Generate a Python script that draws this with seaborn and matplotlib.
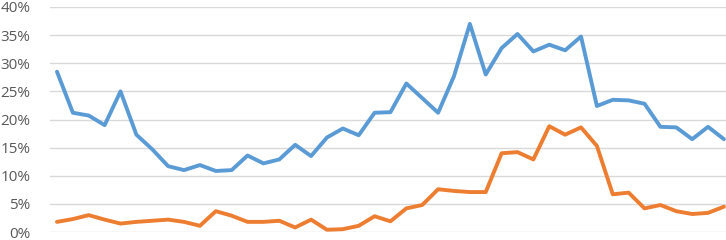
"""
Two percentage series over 43 periods, Excel-style line chart.
"""

## Import packages
import pandas as pd
import matplotlib.pyplot as plt
import matplotlib.ticker as mtick
import seaborn as sns


## Prepare data
# Values (percent)
blue = [28.5, 21.2, 20.7, 19.0, 25.0, 17.3, 14.7, 11.7, 11.0, 11.9,
        10.85, 11.0, 13.6, 12.2, 12.9, 15.5, 13.5, 16.8, 18.4, 17.2,
        21.2, 21.3, 26.4, 23.8, 21.2, 27.7, 37.0, 28.0, 32.7, 35.2,
        32.1, 33.3, 32.3, 34.75, 22.4, 23.5, 23.4, 22.8, 18.7, 18.6,
        16.5, 18.7, 16.5]
orange = [1.8, 2.3, 3.0, 2.2, 1.5, 1.8, 2.0, 2.2, 1.8, 1.1,
          3.7, 2.9, 1.8, 1.8, 2.0, 0.8, 2.2, 0.4, 0.5, 1.1,
          2.8, 1.9, 4.2, 4.8, 7.6, 7.3, 7.1, 7.1, 14.0, 14.2,
          12.9, 18.8, 17.3, 18.6, 15.3, 6.7, 7.0, 4.2, 4.8, 3.7,
          3.2, 3.4, 4.5]
period = list(range(len(blue)))

df = pd.DataFrame({
    'period': period * 2,
    'value': [v / 100 for v in blue] + [v / 100 for v in orange],
    'series': ['A'] * len(blue) + ['B'] * len(orange),
})


## Create figure
sns.set_theme(style='white')
plt.rcParams['font.family'] = ['Open Sans', 'DejaVu Sans']

fig = plt.figure(figsize=(7.26, 2.4), dpi=100)
ax = fig.add_axes([50 / 726, 8 / 240, 676 / 726, 225 / 240])

sns.lineplot(ax=ax, data=df, x='period', y='value', hue='series',
             palette=['#5B9BD5', '#ED7D31'], linewidth=2.8, legend=False)

# Axes limits and ticks
ax.set_xlim(-0.44, 42.13)
ax.set_ylim(0, 0.40)
ax.set_yticks([i * 0.05 for i in range(9)])
ax.yaxis.set_major_formatter(mtick.PercentFormatter(1.0, decimals=0))
ax.set_xticks([])
ax.set_xlabel('')
ax.set_ylabel('')

# Gridlines and spines
ax.grid(axis='y', color='#D9D9D9', linewidth=1.0)
ax.set_axisbelow(True)
for s in ax.spines.values():
    s.set_visible(False)
ax.tick_params(axis='y', length=0, pad=14, labelsize=11, labelcolor='#595959')

# Save figure
fig.savefig('out.png', dpi=100)
